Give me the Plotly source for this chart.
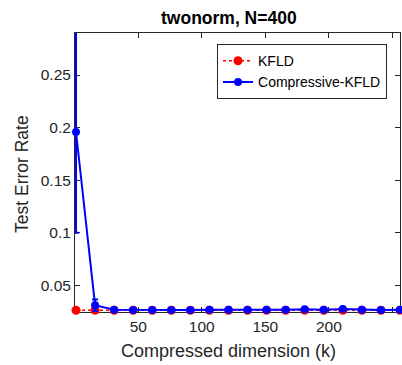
import plotly.graph_objects as go

k_values = [1, 16, 31, 46, 61, 76, 91, 106, 121, 136, 151, 166, 181, 196, 211, 226, 241, 256]
kfld_err = [0.0262, 0.0262, 0.0262, 0.0262, 0.0262, 0.0262, 0.0262, 0.0262, 0.0262,
            0.0262, 0.0262, 0.0262, 0.0262, 0.0262, 0.0262, 0.0262, 0.0262, 0.0262]
kfld_sd = [0.0006] * 18
ckfld_err = [0.1958, 0.0310, 0.0267, 0.0265, 0.0265, 0.0265, 0.0265, 0.0267, 0.0266,
             0.0266, 0.0266, 0.0266, 0.0272, 0.0267, 0.0274, 0.0267, 0.0265, 0.0267]
ckfld_sd = [0.0958, 0.0055, 0.0008, 0.0005, 0.0005, 0.0005, 0.0005, 0.0006, 0.0005,
            0.0005, 0.0005, 0.0005, 0.0007, 0.0005, 0.0007, 0.0005, 0.0005, 0.0005]

x_ticks = [50, 100, 150, 200, 250]
y_ticks = [0.05, 0.1, 0.15, 0.2, 0.25]
y_tick_labels = ["0.05", "0.1", "0.15", "0.2", "0.25"]

FONT = "Liberation Sans, Arial, sans-serif"
AX = "#262626"

fig = go.Figure()
fig.add_trace(go.Scatter(
    x=k_values, y=kfld_err, name="KFLD", mode="lines+markers",
    line=dict(color="#ff0000", width=1.5, dash="dot"),
    marker=dict(color="#ff0000", size=9, symbol="circle"),
    error_y=dict(type="data", array=kfld_sd, color="#ff0000", thickness=1.5, width=3),
    cliponaxis=False,
))
fig.add_trace(go.Scatter(
    x=k_values, y=ckfld_err, name="Compressive-KFLD", mode="lines+markers",
    line=dict(color="#0000ff", width=2),
    marker=dict(color="#0000ff", size=8, symbol="circle"),
    error_y=dict(type="data", array=ckfld_sd, color="#0000ff", thickness=2, width=3),
    cliponaxis=False,
))

fig.update_layout(
    width=402, height=365,
    margin=dict(l=75, r=2, t=33, b=53),
    paper_bgcolor="white", plot_bgcolor="white",
    font=dict(family=FONT, color=AX, size=15),
    showlegend=True,
    legend=dict(
        x=0.437, y=0.96, xanchor="left", yanchor="top",
        bordercolor=AX, borderwidth=1, bgcolor="white",
        font=dict(size=14, color="#000000"),
        tracegroupgap=0, itemwidth=30,
    ),
    annotations=[
        dict(text="<b>twonorm, N=400</b>", xref="paper", yref="paper",
             x=(229 - 75) / 325, y=(312 - 18) / 279, xanchor="center", yanchor="middle",
             showarrow=False, font=dict(size=17.5, color="#000000")),
        dict(text="Compressed dimension (k)", xref="paper", yref="paper",
             x=(228 - 75) / 325, y=(312 - 351) / 279, xanchor="center", yanchor="middle",
             showarrow=False, font=dict(size=18, color=AX)),
        dict(text="Test Error Rate", xref="paper", yref="paper",
             x=(22 - 75) / 325, y=(312 - 174) / 279, xanchor="center", yanchor="middle",
             textangle=-90, showarrow=False, font=dict(size=17.5, color=AX)),
    ],
)
fig.update_xaxes(
    range=[0.2, 256], tickvals=x_ticks, ticktext=[str(v) for v in x_ticks],
    ticks="inside", ticklen=5, tickcolor=AX, tickwidth=1,
    showline=True, linecolor=AX, linewidth=1, mirror="ticks",
    showgrid=False, zeroline=False, tickfont=dict(size=15.5, color=AX),
    layer="below traces",
)
fig.update_yaxes(
    range=[0.0245, 0.29], tickvals=y_ticks, ticktext=y_tick_labels,
    ticks="inside", ticklen=5, tickcolor=AX, tickwidth=1,
    showline=True, linecolor=AX, linewidth=1, mirror="ticks",
    showgrid=False, zeroline=False, tickfont=dict(size=15.5, color=AX),
    layer="below traces",
)

fig.write_html("out.html")
